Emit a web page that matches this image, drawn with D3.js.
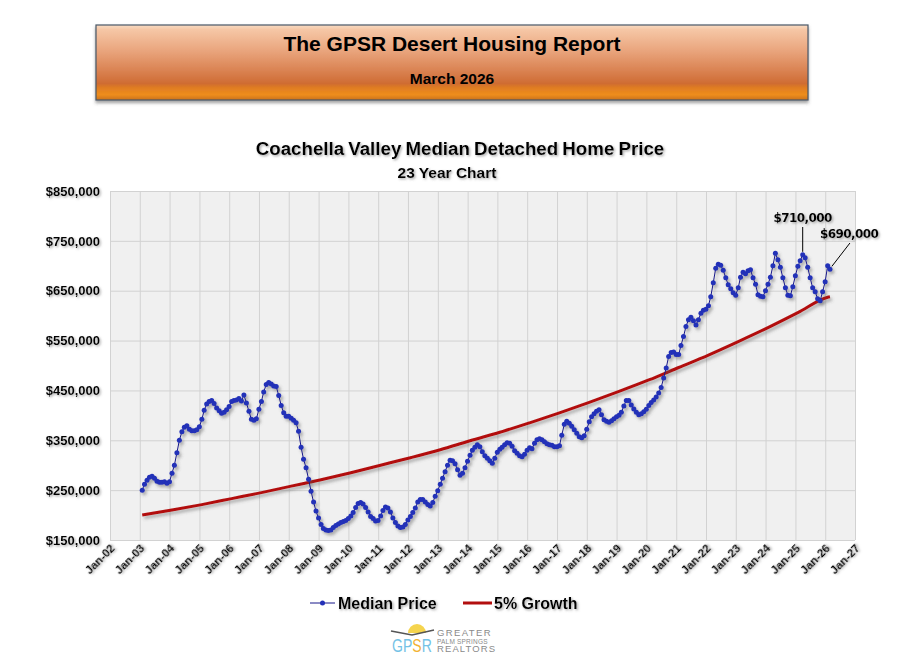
<!DOCTYPE html>
<html>
<head>
<meta charset="utf-8">
<script src="https://cdn.jsdelivr.net/npm/d3@7"></script>
<style>
  body { margin: 0; background: #fff; }
  svg { display: block; font-family: "Liberation Sans", Arial, sans-serif; }
</style>
</head>
<body>
<svg id="chart" width="915" height="670"></svg>
<script>
// Median detached home price ($1000s), Jan..Dec of each year
const price2003 = [250, 262, 270, 276, 278, 274, 268, 266, 266, 267, 264, 267];
const price2004 = [284, 300, 325, 350, 367, 376, 379, 372, 369, 369, 371, 377];
const price2005 = [392, 410, 423, 428, 430, 424, 415, 409, 404, 406, 411, 418];
const price2006 = [428, 430, 431, 434, 429, 441, 425, 408, 392, 390, 393, 412];
const price2007 = [428, 447, 462, 466, 463, 459, 458, 440, 420, 405, 398, 398];
const price2008 = [394, 390, 385, 368, 336, 312, 295, 272, 248, 226, 208, 194];
const price2009 = [181, 173, 170, 169, 170, 175, 179, 182, 185, 187, 189, 193];
const price2010 = [198, 205, 215, 223, 225, 222, 215, 206, 197, 193, 188, 189];
const price2011 = [198, 209, 216, 214, 206, 194, 185, 178, 175, 176, 181, 190];
const price2012 = [197, 205, 214, 226, 231, 231, 226, 221, 218, 225, 238, 249];
const price2013 = [262, 274, 287, 300, 310, 309, 303, 291, 280, 284, 295, 308];
const price2014 = [320, 330, 336, 341, 337, 327, 319, 314, 309, 304, 314, 326];
const price2015 = [332, 336, 341, 345, 344, 338, 329, 324, 319, 317, 322, 330];
const price2016 = [335, 333, 344, 351, 353, 351, 347, 343, 341, 340, 337, 337];
const price2017 = [339, 360, 382, 388, 384, 378, 371, 364, 357, 355, 359, 372];
const price2018 = [387, 397, 403, 408, 411, 401, 391, 388, 386, 389, 393, 397];
const price2019 = [400, 406, 419, 430, 430, 421, 413, 406, 401, 403, 407, 412];
const price2020 = [420, 426, 431, 437, 445, 456, 475, 495, 518, 526, 527, 522];
const price2021 = [522, 540, 558, 578, 592, 597, 590, 581, 592, 605, 611, 613];
const price2022 = [620, 638, 666, 695, 703, 701, 691, 676, 662, 654, 646, 641];
const price2023 = [656, 677, 687, 684, 690, 692, 676, 663, 642, 639, 638, 650];
const price2024 = [663, 677, 700, 725, 712, 697, 676, 656, 641, 640, 658, 680];
const price2025 = [699, 710, 722, 716, 697, 676, 656, 648, 634, 630, 648, 668];
const price2026 = [700, 693];

const priceYears = [price2003, price2004, price2005, price2006, price2007, price2008,
  price2009, price2010, price2011, price2012, price2013, price2014, price2015, price2016,
  price2017, price2018, price2019, price2020, price2021, price2022, price2023, price2024,
  price2025, price2026];
const firstYear = 2003;

// 5% growth line ($1000s), January of 2003..2026, then the last month (Feb-26)
const growthJan = [200, 210, 221, 233, 245, 258, 271, 285, 300, 315, 331, 349,
  366, 385, 405, 426, 448, 471, 496, 521, 548, 576, 606, 637];
const growthLast = 638;

const yTicks = [150000, 250000, 350000, 450000, 550000, 650000, 750000, 850000];

// annotated points: [year, month index, label]
const callouts = [
  [2025, 2, "$710,000"],
  [2026, 1, "$690,000"]
];

const legendItems = ["Median Price", "5% Growth"];

// month-end date for a year / month index
const monthEnd = (yr, m) => new Date(yr, m + 1, 0);

const priceData = [];
priceYears.forEach((vals, i) => {
  vals.forEach((v, m) => priceData.push({ date: monthEnd(firstYear + i, m), value: v * 1000 }));
});

const growthData = growthJan.map((v, i) => ({ date: monthEnd(firstYear + i, 0), value: v * 1000 }));
growthData.push({ date: monthEnd(2026, 1), value: growthLast * 1000 });

const svg = d3.select('#chart');
const margin = { left: 110, right: 855, top: 191, bottom: 540 };

const x = d3.scaleTime()
  .domain([new Date(2002, 0, 1), new Date(2027, 0, 1)])
  .range([margin.left, margin.right]);

const y = d3.scaleLinear()
  .domain([150000, 850000])
  .range([margin.bottom, margin.top]);

// ---- filters / gradients
const defs = svg.append('defs');

const tshadow = defs.append('filter').attr('id', 'tshadow')
  .attr('x', '-10%').attr('y', '-30%').attr('width', '130%').attr('height', '170%');
tshadow.append('feDropShadow').attr('dx', 1.3).attr('dy', 1.3)
  .attr('stdDeviation', 0.9).attr('flood-color', '#777').attr('flood-opacity', 0.65);

const lshadow = defs.append('filter').attr('id', 'lshadow')
  .attr('x', '-5%').attr('y', '-5%').attr('width', '110%').attr('height', '115%');
lshadow.append('feDropShadow').attr('dx', 2).attr('dy', 2.5)
  .attr('stdDeviation', 1.6).attr('flood-color', '#555').attr('flood-opacity', 0.45);

const bshadow = defs.append('filter').attr('id', 'bshadow')
  .attr('x', '-2%').attr('y', '-10%').attr('width', '104%').attr('height', '130%');
bshadow.append('feDropShadow').attr('dx', 0).attr('dy', 2.5)
  .attr('stdDeviation', 1.5).attr('flood-color', '#444').attr('flood-opacity', 0.5);

const grad = defs.append('linearGradient').attr('id', 'hdr')
  .attr('x1', 0).attr('y1', 0).attr('x2', 0).attr('y2', 1);
[
  [0, '#f8dcc4'], [0.06, '#f6c7a6'], [0.35, '#e9a47c'], [0.62, '#d98150'],
  [0.78, '#cf6c33'], [0.84, '#e07d22'], [0.93, '#ee8d1c'], [1, '#c9721c']
].forEach(s => grad.append('stop').attr('offset', s[0]).attr('stop-color', s[1]));

// ---- header box
svg.append('rect')
  .attr('x', 96).attr('y', 25).attr('width', 712).attr('height', 75)
  .attr('fill', 'url(#hdr)')
  .attr('stroke', '#4a5868').attr('stroke-width', 1.2)
  .attr('filter', 'url(#bshadow)');

svg.append('text')
  .attr('x', 452).attr('y', 51)
  .attr('text-anchor', 'middle')
  .style('font-size', '21px').style('font-weight', 'bold')
  .text('The GPSR Desert Housing Report');

svg.append('text')
  .attr('x', 452).attr('y', 84)
  .attr('text-anchor', 'middle')
  .style('font-size', '15.5px').style('font-weight', 'bold')
  .text('March 2026');

// ---- chart titles
svg.append('text')
  .attr('x', 460).attr('y', 155)
  .attr('text-anchor', 'middle')
  .attr('filter', 'url(#tshadow)')
  .style('font-size', '18.7px').style('font-weight', 'bold')
  .style('word-spacing', '-1px')
  .text('Coachella Valley Median Detached Home Price');

svg.append('text')
  .attr('x', 447).attr('y', 178)
  .attr('text-anchor', 'middle')
  .attr('filter', 'url(#tshadow)')
  .style('font-size', '15.5px').style('font-weight', 'bold')
  .text('23 Year Chart');

// ---- plot area
svg.append('rect')
  .attr('x', margin.left).attr('y', margin.top)
  .attr('width', margin.right - margin.left).attr('height', margin.bottom - margin.top)
  .attr('fill', '#f0f0f0');

// grid
svg.append('g')
  .attr('transform', `translate(0, ${margin.bottom})`)
  .call(d3.axisBottom(x).ticks(d3.timeYear.every(1)).tickSize(-(margin.bottom - margin.top)).tickFormat(''))
  .call(g => g.select('.domain').remove())
  .call(g => g.selectAll('line').attr('stroke', '#d2d2d2'));

svg.append('g')
  .attr('transform', `translate(${margin.left}, 0)`)
  .call(d3.axisLeft(y).tickValues(yTicks).tickSize(-(margin.right - margin.left)).tickFormat(''))
  .call(g => g.select('.domain').remove())
  .call(g => g.selectAll('line').attr('stroke', '#d2d2d2'));

// y labels
svg.append('g')
  .attr('transform', `translate(${margin.left}, 0)`)
  .call(d3.axisLeft(y).tickValues(yTicks).tickSize(0).tickPadding(10).tickFormat(d3.format('$,')))
  .call(g => g.select('.domain').remove())
  .call(g => g.selectAll('text')
    .attr('fill', '#000')
    .attr('filter', 'url(#tshadow)')
    .style('font-size', '13px').style('font-weight', 'bold')
    .style('font-family', '"Liberation Sans", Arial, sans-serif'));

// x labels
svg.append('g')
  .attr('transform', `translate(0, ${margin.bottom})`)
  .call(d3.axisBottom(x).ticks(d3.timeYear.every(1)).tickSize(0).tickFormat(d3.timeFormat('%b-%y')))
  .call(g => g.select('.domain').remove())
  .call(g => g.selectAll('text')
    .attr('y', 0).attr('dy', 0)
    .attr('transform', 'translate(5, 9) rotate(-45)')
    .attr('text-anchor', 'end')
    .attr('fill', '#000')
    .attr('filter', 'url(#tshadow)')
    .style('font-size', '11.5px').style('font-weight', 'bold')
    .style('font-family', '"Liberation Sans", Arial, sans-serif'));

// ---- 5% growth line
svg.append('path')
  .datum(growthData)
  .attr('fill', 'none')
  .attr('stroke', '#b20f0f')
  .attr('stroke-width', 3)
  .attr('filter', 'url(#lshadow)')
  .attr('d', d3.line().x(d => x(d.date)).y(d => y(d.value)).curve(d3.curveMonotoneX));

// ---- median price line with markers
const priceG = svg.append('g').attr('filter', 'url(#lshadow)');

priceG.append('path')
  .datum(priceData)
  .attr('fill', 'none')
  .attr('stroke', '#16168a')
  .attr('stroke-width', 1)
  .attr('d', d3.line().x(d => x(d.date)).y(d => y(d.value)));

priceG.selectAll('circle')
  .data(priceData)
  .enter()
  .append('circle')
  .attr('cx', d => x(d.date))
  .attr('cy', d => y(d.value))
  .attr('r', 2.5)
  .attr('fill', '#2330b8');

// ---- callouts
callouts.forEach((c, i) => {
  const v = priceYears[c[0] - firstYear][c[1]] * 1000;
  const px = x(monthEnd(c[0], c[1])), py = y(v);
  const lbl = svg.append('text')
    .attr('filter', 'url(#tshadow)')
    .style('font-family', '"DejaVu Sans", Verdana, sans-serif')
    .style('font-size', '12px').style('font-weight', 'bold')
    .style('letter-spacing', '-0.6px')
    .text(c[2]);
  if (i === 0) {
    lbl.attr('x', px).attr('y', 222).attr('text-anchor', 'middle');
    svg.append('line')
      .attr('x1', px).attr('x2', px)
      .attr('y1', 227).attr('y2', py - 3)
      .attr('stroke', '#000').attr('stroke-width', 1);
  } else {
    lbl.attr('x', px - 10).attr('y', 238);
    svg.append('line')
      .attr('x1', px + 20).attr('y1', 243)
      .attr('x2', px + 2).attr('y2', py - 3)
      .attr('stroke', '#000').attr('stroke-width', 1);
  }
});

// ---- legend
const legend = svg.append('g').attr('transform', 'translate(0, 603)');

legend.append('line')
  .attr('x1', 310).attr('x2', 335)
  .attr('stroke', '#16168a').attr('stroke-width', 1);
legend.append('circle')
  .attr('cx', 322.5).attr('r', 2.5).attr('fill', '#2330b8');
legend.append('line')
  .attr('x1', 463).attr('x2', 492)
  .attr('stroke', '#b20f0f').attr('stroke-width', 3);

legend.selectAll('text.leg')
  .data(legendItems)
  .enter()
  .append('text')
  .attr('class', 'leg')
  .attr('x', (d, i) => i === 0 ? 338 : 494)
  .attr('y', 6)
  .attr('filter', 'url(#tshadow)')
  .style('font-size', '16px').style('font-weight', 'bold')
  .text(d => d);

// ---- GPSR logo
const logo = svg.append('g').attr('transform', 'translate(390, 627)');

logo.append('path')
  .attr('d', d3.arc()({ innerRadius: 0, outerRadius: 9, startAngle: -Math.PI / 2, endAngle: Math.PI / 2 }))
  .attr('transform', 'translate(27, 6)')
  .attr('fill', '#f5d44e');

logo.append('polyline')
  .attr('points', '1,4 22,8 44,3')
  .attr('fill', 'none')
  .attr('stroke', '#555')
  .attr('stroke-width', 1.6);

const gpsr = logo.append('text')
  .attr('transform', 'translate(2, 25) scale(0.78, 1)')
  .style('font-size', '18px');
gpsr.append('tspan').attr('fill', '#74c2e6').text('GP');
gpsr.append('tspan').attr('fill', '#f2b233').text('S');
gpsr.append('tspan').attr('fill', '#74c2e6').text('R');

logo.append('text')
  .attr('x', 47).attr('y', 9)
  .attr('fill', '#8a8a8a')
  .style('font-size', '9.5px').style('letter-spacing', '1.4px')
  .text('GREATER');
logo.append('text')
  .attr('x', 47).attr('y', 16.5)
  .attr('fill', '#8a8a8a')
  .style('font-size', '6.5px').style('letter-spacing', '0.2px')
  .text('PALM SPRINGS');
logo.append('text')
  .attr('x', 47).attr('y', 25)
  .attr('fill', '#8a8a8a')
  .style('font-size', '9.5px').style('letter-spacing', '1.1px')
  .text('REALTORS');
</script>
</body>
</html>
